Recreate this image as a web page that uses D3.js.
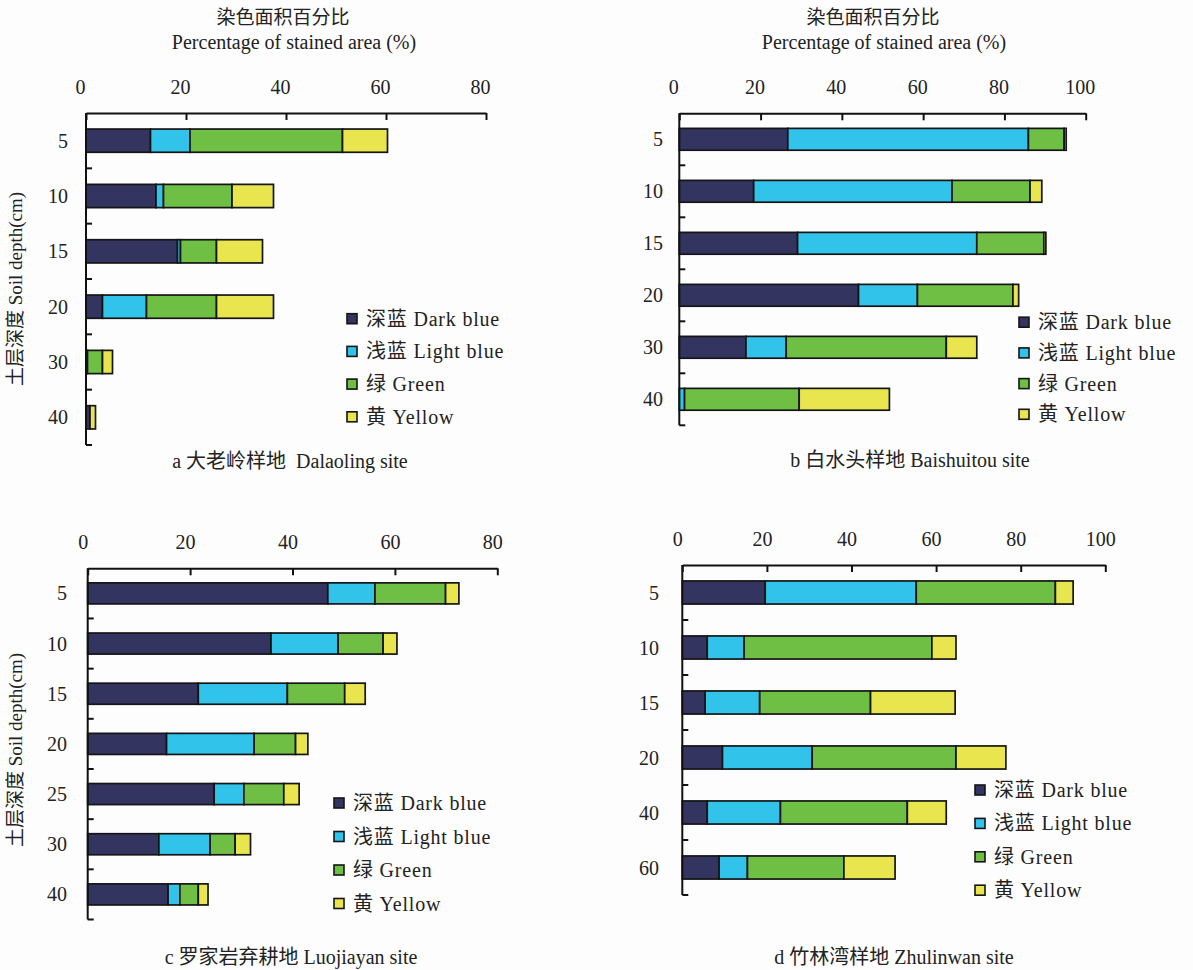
<!DOCTYPE html>
<html>
<head>
<meta charset="utf-8">
<script src="https://cdn.jsdelivr.net/npm/d3@7"></script>
<style>
  body { margin: 0; background: #fdfdfd; }
  svg { display: block; }
  text { font-family: "Liberation Serif", "Times New Roman", "Noto Sans CJK SC", serif; fill: #222; }
</style>
</head>
<body>
<figure id="chart" style="margin:0"></figure>
<script>
// series order: dark blue, light blue, green, yellow
const keys = ["dark", "light", "green", "yellow"];
const legendLabels = ["深蓝 Dark blue", "浅蓝 Light blue", "绿 Green", "黄 Yellow"];
const colors = ["#343461", "#31c3e9", "#6fbf44", "#e8e54f"];

const ticks80 = [0, 20, 40, 60, 80];
const ticks100 = [0, 20, 40, 60, 80, 100];

// a 大老岭
const depthsA = ["5", "10", "15", "20", "30", "40"];
const darkA = [12.9, 14.0, 18.3, 3.3, 0.3, 0.8];
const lightA = [7.9, 1.5, 0.6, 8.8, 0, 0];
const greenA = [30.5, 13.7, 7.2, 14.0, 3.0, 0];
const yellowA = [9.0, 8.3, 9.2, 11.4, 2.0, 1.1];

// b 白水头
const depthsB = ["5", "10", "15", "20", "30", "40"];
const darkB = [26.7, 18.3, 29.1, 44.1, 16.4, 0];
const lightB = [59.2, 48.8, 44.1, 14.5, 9.9, 1.3];
const greenB = [8.8, 19.2, 16.5, 23.5, 39.4, 28.2];
const yellowB = [0.5, 2.9, 0.5, 1.4, 7.5, 22.2];

// c 罗家岩
const depthsC = ["5", "10", "15", "20", "25", "30", "40"];
const darkC = [46.9, 35.8, 21.6, 15.4, 24.7, 13.9, 15.7];
const lightC = [9.2, 13.1, 17.4, 17.1, 5.8, 10.0, 2.3];
const greenC = [13.8, 8.8, 11.2, 8.1, 7.8, 4.9, 3.6];
const yellowC = [2.6, 2.7, 4.0, 2.4, 3.0, 3.0, 1.9];

// d 竹林湾
const depthsD = ["5", "10", "15", "20", "40", "60"];
const darkD = [19.6, 5.9, 5.4, 9.5, 5.9, 8.7];
const lightD = [35.7, 8.7, 12.9, 21.2, 17.3, 6.7];
const greenD = [32.9, 44.4, 26.2, 34.0, 30.0, 22.8];
const yellowD = [4.2, 5.7, 20.0, 11.8, 9.2, 12.1];

const svg = d3.select("#chart").append("svg")
  .attr("width", 1193)
  .attr("height", 970);

svg.append("rect").attr("width", 1193).attr("height", 970).attr("fill", "#fdfdfd");

function drawPanel(cfg) {
  const rows = cfg.depths.map((d, i) => ({
    depth: d,
    dark: cfg.series[0][i],
    light: cfg.series[1][i],
    green: cfg.series[2][i],
    yellow: cfg.series[3][i]
  }));
  const stacked = d3.stack().keys(keys)(rows);

  const x = d3.scaleLinear().domain([0, cfg.max]).range([cfg.x0, cfg.x1]);
  const y = d3.scaleBand()
    .domain(cfg.depths)
    .range([cfg.yTop, cfg.yBot])
    .paddingInner(0.58)
    .paddingOuter(0.29);

  const g = svg.append("g");

  // bars
  g.selectAll(".series")
    .data(stacked)
    .enter()
    .append("g")
    .attr("fill", (d, i) => colors[i])
    .selectAll("rect")
    .data(d => d.filter(s => s[1] - s[0] > 0))
    .enter()
    .append("rect")
    .attr("x", d => x(d[0]))
    .attr("y", d => y(d.data.depth))
    .attr("width", d => x(d[1]) - x(d[0]))
    .attr("height", y.bandwidth())
    .attr("stroke", "#151515")
    .attr("stroke-width", 1.7);

  // top axis
  const top = g.append("g")
    .attr("transform", "translate(0," + cfg.yTop + ")")
    .call(d3.axisTop(x).tickValues(cfg.ticks).tickSize(-7).tickSizeOuter(0).tickPadding(19));
  top.select(".domain").attr("stroke", "#111").attr("stroke-width", 2);
  top.selectAll(".tick line").attr("stroke", "#111").attr("stroke-width", 2);
  top.selectAll(".tick text")
    .attr("dx", cfg.tickDx)
    .style("font-size", "20px")
    .style("font-family", "'Liberation Serif', serif")
    .attr("fill", "#333");

  // left axis: line + ticks at band boundaries
  g.append("line")
    .attr("x1", cfg.x0).attr("x2", cfg.x0)
    .attr("y1", cfg.yTop).attr("y2", cfg.yBot)
    .attr("stroke", "#111").attr("stroke-width", 2);
  g.selectAll(".ytick")
    .data(d3.range(1, cfg.depths.length + 1))
    .enter()
    .append("line")
    .attr("x1", cfg.x0).attr("x2", cfg.x0 + 6)
    .attr("y1", i => cfg.yTop + i * y.step())
    .attr("y2", i => cfg.yTop + i * y.step())
    .attr("stroke", "#111").attr("stroke-width", 2);
  g.selectAll(".ylab")
    .data(cfg.depths)
    .enter()
    .append("text")
    .attr("x", cfg.labelX)
    .attr("y", d => y(d) + y.bandwidth() / 2)
    .attr("dy", "0.35em")
    .attr("text-anchor", "end")
    .style("font-size", "20px")
    .attr("fill", "#333")
    .text(d => d);

  // legend
  const leg = g.selectAll(".leg")
    .data(legendLabels)
    .enter()
    .append("g")
    .attr("transform", (d, i) => "translate(" + cfg.legX + "," + (cfg.legY + i * cfg.legStep) + ")");
  leg.append("rect")
    .attr("x", 0).attr("y", -5)
    .attr("width", 10).attr("height", 10)
    .attr("fill", (d, i) => colors[i])
    .attr("stroke", "#151515").attr("stroke-width", 1.6);
  leg.append("text")
    .attr("x", 19)
    .attr("dy", "0.35em")
    .style("font-size", "20px")
    .style("letter-spacing", "0.8px")
    .attr("fill", "#333")
    .text(d => d);

  // caption
  g.append("text")
    .attr("x", cfg.capX)
    .attr("y", cfg.capY)
    .attr("dy", "0.35em")
    .attr("text-anchor", "middle")
    .style("font-size", "20px")
    .attr("fill", "#333")
    .style("white-space", "pre")
    .attr("xml:space", "preserve")
    .text(cfg.caption);

  // title above (top row only)
  if (cfg.title) {
    g.append("text")
      .attr("x", cfg.titleX - 11)
      .attr("y", 17)
      .attr("dy", "0.35em")
      .attr("text-anchor", "middle")
      .style("font-size", "19px")
      .text("染色面积百分比");
    g.append("text")
      .attr("x", cfg.titleX)
      .attr("y", 42)
      .attr("dy", "0.35em")
      .attr("text-anchor", "middle")
      .style("font-size", "20px")
      .attr("fill", "#333")
      .text("Percentage of stained area (%)");
  }

  // y axis title (left column only)
  if (cfg.yTitle) {
    g.append("text")
      .attr("transform", "translate(15," + cfg.yTitleY + ") rotate(-90)")
      .attr("dy", "0.35em")
      .attr("text-anchor", "middle")
      .style("font-size", "19px")
      .attr("fill", "#333")
      .text("土层深度 Soil depth(cm)");
  }
}

drawPanel({
  depths: depthsA, series: [darkA, lightA, greenA, yellowA], max: 80, ticks: ticks80,
  x0: 86, x1: 486, yTop: 113, yBot: 445, labelX: 68, tickDx: -6,
  legX: 347, legY: 318.7, legStep: 32.7,
  caption: "a 大老岭样地  Dalaoling site", capX: 290, capY: 461,
  title: true, titleX: 294, yTitle: true, yTitleY: 289
});

drawPanel({
  depths: depthsB, series: [darkB, lightB, greenB, yellowB], max: 100, ticks: ticks100,
  x0: 679.3, x1: 1085.7, yTop: 113.3, yBot: 425.3, labelX: 663, tickDx: -6,
  legX: 1019, legY: 322.2, legStep: 30.7,
  caption: "b 白水头样地 Baishuitou site", capX: 910, capY: 460,
  title: true, titleX: 884, yTitle: false
});

drawPanel({
  depths: depthsC, series: [darkC, lightC, greenC, yellowC], max: 80, ticks: ticks80,
  x0: 87.7, x1: 497.3, yTop: 568.3, yBot: 919.5, labelX: 67, tickDx: -5,
  legX: 334, legY: 803, legStep: 33.5,
  caption: "c 罗家岩弃耕地 Luojiayan site", capX: 291, capY: 957,
  title: false, yTitle: true, yTitleY: 750
});

drawPanel({
  depths: depthsD, series: [darkD, lightD, greenD, yellowD], max: 100, ticks: ticks100,
  x0: 682.3, x1: 1105.3, yTop: 565, yBot: 895, labelX: 659, tickDx: -5,
  legX: 975, legY: 790, legStep: 33.4,
  caption: "d 竹林湾样地 Zhulinwan site", capX: 894, capY: 957,
  title: false, yTitle: false
});
</script>
</body>
</html>
